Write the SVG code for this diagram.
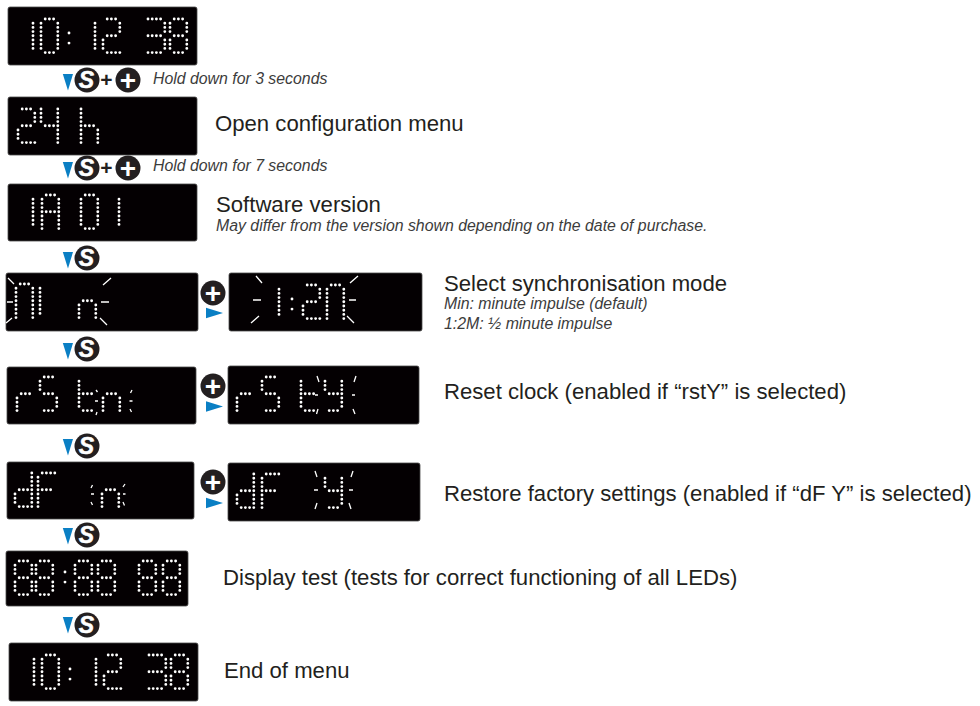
<svg xmlns="http://www.w3.org/2000/svg" width="980" height="706" viewBox="0 0 980 706">
<style>
.panel{fill:#040002;stroke:#4a4a4a;stroke-width:.8}
.led{fill:none;stroke:#fff;stroke-width:.68;stroke-linecap:round}
.ray{fill:none;stroke:#fff;stroke-width:1.3}
.btn{fill:#231f20}
.tri{fill:#0a7fc4}
.s{font:italic bold 23px "Liberation Sans",Arial,sans-serif;fill:#fff;text-anchor:middle;stroke:#fff;stroke-width:.5}
.p{font:bold 28px "Liberation Sans",Arial,sans-serif;fill:#fff;text-anchor:middle}
.pk{font:bold 21px "Liberation Sans",Arial,sans-serif;fill:#231f20;text-anchor:middle}
.h{font:22.150px "Liberation Sans",Arial,sans-serif;fill:#231f20}
.i{font:italic 15.850px "Liberation Sans",Arial,sans-serif;fill:#3c3c3c}
</style>
<defs>
<path id="a" d="M1 0h0M2 0h0M3 0h0"/>
<path id="b" d="M4 1h0M4 2h0M4 3h0"/>
<path id="c" d="M4 5h0M4 6h0M4 7h0"/>
<path id="d" d="M1 8h0M2 8h0M3 8h0"/>
<path id="e" d="M0 5h0M0 6h0M0 7h0"/>
<path id="f" d="M0 1h0M0 2h0M0 3h0"/>
<path id="m" d="M1 4h0M2 4h0M3 4h0"/>
<path id="L" d="M0 4h0"/>
<path id="R" d="M4 4h0"/>
<g id="g0"><use href="#a"/><use href="#b"/><use href="#c"/><use href="#d"/><use href="#e"/><use href="#f"/><use href="#L"/><use href="#R"/></g>
<g id="g1"><use href="#f"/><use href="#L"/><use href="#e"/></g>
<g id="g2"><use href="#a"/><use href="#b"/><use href="#m"/><use href="#e"/><use href="#d"/><path d="M4 8h0"/></g>
<g id="g3"><use href="#a"/><use href="#b"/><use href="#m"/><use href="#c"/><use href="#d"/><path d="M0 0h0M0 4h0M0 8h0"/></g>
<g id="g4"><use href="#f"/><use href="#m"/><use href="#b"/><use href="#c"/><use href="#R"/><path d="M0 0h0M4 0h0M4 8h0"/></g>
<g id="g8"><use href="#a"/><use href="#b"/><use href="#c"/><use href="#d"/><use href="#e"/><use href="#f"/><use href="#m"/></g>
<g id="gA"><use href="#a"/><use href="#b"/><use href="#c"/><use href="#e"/><use href="#f"/><use href="#m"/><use href="#L"/><use href="#R"/><path d="M0 8h0M4 8h0"/></g>
<g id="gh"><use href="#g1"/><use href="#m"/><use href="#c"/><path d="M0 0h0M0 8h0M4 8h0"/></g>
<g id="gM"><use href="#a"/><use href="#b"/><use href="#c"/><use href="#e"/><use href="#f"/><use href="#L"/><use href="#R"/><path d="M0 8h0M4 8h0"/></g>
<g id="gn"><use href="#m"/><use href="#e"/><use href="#c"/><path d="M0 8h0M4 8h0"/></g>
<g id="gr"><use href="#m"/><use href="#e"/><path d="M0 8h0"/></g>
<g id="gS"><use href="#a"/><use href="#f"/><use href="#m"/><use href="#c"/><use href="#d"/></g>
<g id="gt"><use href="#f"/><use href="#L"/><use href="#e"/><use href="#m"/><use href="#d"/></g>
<g id="gy"><use href="#f"/><use href="#m"/><use href="#b"/><use href="#R"/><use href="#c"/><use href="#d"/></g>
<g id="gd"><use href="#m"/><use href="#e"/><use href="#d"/><use href="#b"/><use href="#c"/><use href="#R"/><path d="M4 0h0M4 8h0"/></g>
<g id="gF"><use href="#a"/><use href="#f"/><use href="#L"/><use href="#e"/><use href="#m"/><path d="M0 8h0M4 0h0"/></g>
<g id="colon"><path d="M0 0h0M0 2.400h0"/></g>
<g id="sBtn"><circle class="btn" r="12.500"/><text class="s" x="-.5" y="8.300">S</text></g>
<g id="pBtn"><circle class="btn" r="12.500"/><text class="p" y="9.500">+</text></g>
<path id="down" class="tri" d="M-5.200 -8H5L0 8.500Z"/>
<path id="right" class="tri" d="M-8.500 -5.300L8.500 0L-8.500 5.300Z"/>
</defs>

<g id="connectors">
<use href="#down" x="68" y="82"/>
<use href="#down" x="68" y="170"/>
<use href="#down" x="68" y="260"/>
<use href="#down" x="68" y="351"/>
<use href="#down" x="68" y="447"/>
<use href="#down" x="68" y="536"/>
<use href="#down" x="68" y="625"/>
<use href="#right" x="214.500" y="313"/>
<use href="#right" x="214.500" y="406.500"/>
<use href="#right" x="214.500" y="503"/>
</g>

<g id="keys">
<use href="#sBtn" x="87" y="80"/><text class="pk" x="106.500" y="87">+</text><use href="#pBtn" x="128" y="80"/>
<use href="#sBtn" x="87" y="168"/><text class="pk" x="106.500" y="175">+</text><use href="#pBtn" x="128" y="168"/>
<use href="#sBtn" x="87" y="258"/>
<use href="#pBtn" x="213" y="293"/>
<use href="#sBtn" x="87" y="349"/>
<use href="#pBtn" x="213" y="386"/>
<use href="#sBtn" x="87" y="446"/>
<use href="#pBtn" x="213" y="482"/>
<use href="#sBtn" x="87" y="535"/>
<use href="#sBtn" x="87" y="625"/>
</g>

<g id="display-time">
<rect class="panel" x="8" y="7" width="189" height="58" rx="2"/>
<g class="led">
<use href="#g1" transform="translate(33,19) scale(4.2)"/>
<use href="#g0" transform="translate(41,19) scale(4.2)"/>
<use href="#colon" transform="translate(69,33) scale(4.2)"/>
<use href="#g1" transform="translate(95,19) scale(4.2)"/>
<use href="#g2" transform="translate(103,19) scale(4.2)"/>
<use href="#g3" transform="translate(148,19) scale(4.2)"/>
<use href="#g8" transform="translate(170,19) scale(4.2)"/>
</g></g>

<g id="display-24h">
<rect class="panel" x="8" y="97" width="189" height="58" rx="2"/>
<g class="led">
<use href="#g2" transform="translate(18,109) scale(4.2)"/>
<use href="#g4" transform="translate(41,109) scale(4.2)"/>
<use href="#gh" transform="translate(81,109) scale(4.2)"/>
</g></g>

<g id="display-version">
<rect class="panel" x="8" y="184" width="189" height="57" rx="2"/>
<g class="led">
<use href="#g1" transform="translate(33,195) scale(4.2)"/>
<use href="#gA" transform="translate(42,195) scale(4.2)"/>
<use href="#g0" transform="translate(81,195) scale(4.2)"/>
<use href="#g1" transform="translate(119,195) scale(4.2)"/>
</g></g>

<g id="display-min">
<rect class="panel" x="6" y="273" width="192" height="58" rx="2"/>
<g class="led">
<use href="#gM" transform="translate(16,284) scale(4.2)"/>
<use href="#g1" transform="translate(40,284) scale(4.2)"/>
<use href="#gn" transform="translate(79,284) scale(4.2)"/>
</g>
<path class="ray" d="M8 278l6 6M7 302h6M6 323l6-5M103 285l8-7M101 302h8M100 318l7 7"/>
</g>

<g id="display-12m">
<rect class="panel" x="229" y="273" width="193" height="58" rx="2"/>
<g class="led">
<use href="#g1" transform="translate(279,285) scale(4.2)"/>
<use href="#colon" transform="translate(292,299) scale(4.2)"/>
<use href="#g2" transform="translate(303,285) scale(4.2)"/>
<use href="#gM" transform="translate(327,285) scale(4.2)"/>
</g>
<path class="ray" d="M256 276l6 7M253 300h8M251 323l8-7M350 283l8-7M349 300h7M347 316l7 7"/>
</g>

<g id="display-rstn">
<rect class="panel" x="7" y="367" width="189" height="57" rx="2"/>
<g class="led">
<use href="#gr" transform="translate(17,377) scale(4.2)"/>
<use href="#gS" transform="translate(40,377) scale(4.2)"/>
<use href="#gt" transform="translate(79,377) scale(4.2)"/>
<use href="#gn" transform="translate(103,377) scale(4.2)"/>
</g>
<path class="ray" d="M96 390l1.500 2M95 401h3M97 412l-1 3M132 390l-1.500 3M129.500 401h3M130 409l1.500 3"/>
</g>

<g id="display-rsty">
<rect class="panel" x="228" y="366" width="191" height="58" rx="2"/>
<g class="led">
<use href="#gr" transform="translate(237,377) scale(4.2)"/>
<use href="#gS" transform="translate(262,377) scale(4.2)"/>
<use href="#gt" transform="translate(301,377) scale(4.2)"/>
<use href="#gy" transform="translate(325,377) scale(4.2)"/>
</g>
<path class="ray" d="M317 376l2 6M315 395h3M318 409l-1.500 5M356 376l-2 6M352 395h3M353 409l2 5"/>
</g>

<g id="display-dfn">
<rect class="panel" x="7" y="462" width="187" height="57" rx="2"/>
<g class="led">
<use href="#gd" transform="translate(15,473) scale(4.2)"/>
<use href="#gF" transform="translate(38,473) scale(4.2)"/>
<use href="#gn" transform="translate(102,473) scale(4.2)"/>
</g>
<path class="ray" d="M92.500 485l-1.500 3M91 494h3M92.500 505l-1.500-3M125 484l-2 3M123 494h2.500M123 502l1.500 3.500"/>
</g>

<g id="display-dfy">
<rect class="panel" x="228" y="463" width="192" height="58" rx="2"/>
<g class="led">
<use href="#gd" transform="translate(237,474) scale(4.2)"/>
<use href="#gF" transform="translate(262,474) scale(4.2)"/>
<use href="#gy" transform="translate(325,474) scale(4.2)"/>
</g>
<path class="ray" d="M315 471l2 6M314 490h4M317 503l-2 6M353 471l-2 6M349 490h4M349 503l2 6"/>
</g>

<g id="display-test">
<rect class="panel" x="6" y="551" width="182" height="55" rx="2"/>
<g class="led">
<use href="#g8" transform="translate(15,561) scale(4.2)"/>
<use href="#g8" transform="translate(36,561) scale(4.2)"/>
<use href="#colon" transform="translate(65,572) scale(4.2)"/>
<use href="#g8" transform="translate(75,561) scale(4.2)"/>
<use href="#g8" transform="translate(98,561) scale(4.2)"/>
<use href="#g8" transform="translate(139,561) scale(4.2)"/>
<use href="#g8" transform="translate(163,561) scale(4.2)"/>
</g></g>

<g id="display-end">
<rect class="panel" x="9" y="643" width="189" height="58" rx="2"/>
<g class="led">
<use href="#g1" transform="translate(34,655) scale(4.2)"/>
<use href="#g0" transform="translate(42,655) scale(4.2)"/>
<use href="#colon" transform="translate(70,669) scale(4.2)"/>
<use href="#g1" transform="translate(96,655) scale(4.2)"/>
<use href="#g2" transform="translate(104,655) scale(4.2)"/>
<use href="#g3" transform="translate(149,655) scale(4.2)"/>
<use href="#g8" transform="translate(171,655) scale(4.2)"/>
</g></g>

<g id="labels">
<text class="i" x="153" y="84">Hold down for 3 seconds</text>
<text class="h" x="215" y="131">Open configuration menu</text>
<text class="i" x="153" y="171">Hold down for 7 seconds</text>
<text class="h" x="216" y="212">Software version</text>
<text class="i" x="216" y="231">May differ from the version shown depending on the date of purchase.</text>
<text class="h" x="444" y="291">Select synchronisation mode</text>
<text class="i" x="444" y="309">Min: minute impulse (default)</text>
<text class="i" x="444" y="329">1:2M: ½ minute impulse</text>
<text class="h" x="444" y="399">Reset clock (enabled if “rstY” is selected)</text>
<text class="h" x="444" y="501">Restore factory settings (enabled if “dF Y” is selected)</text>
<text class="h" x="223" y="585">Display test (tests for correct functioning of all LEDs)</text>
<text class="h" x="224" y="678">End of menu</text>
</g>
</svg>
